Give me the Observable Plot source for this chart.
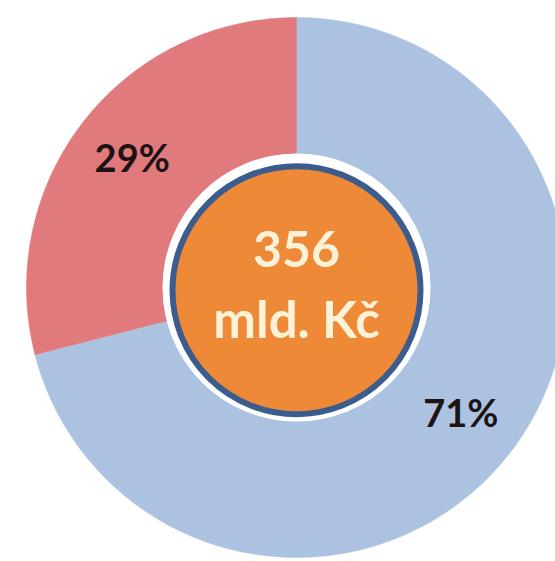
<!DOCTYPE html>
<html>
<head>
<meta charset="utf-8">
<script src="https://cdn.jsdelivr.net/npm/d3@7"></script>
<script src="https://cdn.jsdelivr.net/npm/@observablehq/plot@0.6"></script>
<style>
  html, body { margin: 0; padding: 0; background: #ffffff; }
  #chart svg { display: block; }
</style>
</head>
<body>
<div id="chart"></div>
<script>
// Data
const categories = ["B", "A"];
const shares = [71, 29];
const shareLabels = ["71%", "29%"];
const sliceColors = ["#abc3e0", "#e07a7d"];
const centerLines = ["356", "mld. Kč"];

// Geometry (unit donut: outer radius 1)
const W = 555, H = 561;
const outerR = 1, innerR = 0.495, labelR = 0.77;

const pie = d3.pie().sort(null).value(d => d)(shares);

// Build polygon points for each slice (angle measured clockwise from 12 o'clock)
const slicePts = [];
pie.forEach((p, i) => {
  const n = 200;
  const pts = [];
  for (let k = 0; k <= n; k++) {
    const a = p.startAngle + (p.endAngle - p.startAngle) * k / n;
    pts.push({cat: categories[i], x: outerR * Math.sin(a), y: outerR * Math.cos(a)});
  }
  for (let k = n; k >= 0; k--) {
    const a = p.startAngle + (p.endAngle - p.startAngle) * k / n;
    pts.push({cat: categories[i], x: innerR * Math.sin(a), y: innerR * Math.cos(a)});
  }
  pts.push({...pts[0]});
  slicePts.push(...pts);
});

const labels = pie.map((p, i) => {
  const a = (p.startAngle + p.endAngle) / 2;
  return {label: shareLabels[i], x: labelR * Math.sin(a), y: labelR * Math.cos(a)};
});

// Pixel frame: donut centre at (296, 287), outer radius 270 px
const cx = 296, cy = 287, Rpx = 270;
const xDomain = [-cx / Rpx, (W - cx) / Rpx];
const yDomain = [-(H - cy) / Rpx, cy / Rpx];

const chart = Plot.plot({
  width: W,
  height: H,
  margin: 0,
  style: {background: "#ffffff", fontFamily: "Lato, 'Open Sans', sans-serif"},
  x: {domain: xDomain, range: [0, W], axis: null},
  y: {domain: yDomain, range: [H, 0], axis: null},
  color: {domain: categories, range: sliceColors},
  marks: [
    Plot.line(slicePts, {x: "x", y: "y", z: "cat", fill: "cat", stroke: "cat", strokeWidth: 0.5, curve: "linear"}),
    Plot.dot([{x: 0, y: 0}], {x: "x", y: "y", r: 134, fill: "#ffffff", stroke: "none"}),
    Plot.dot([{x: 0, y: -0.01}], {x: "x", y: "y", r: 124, fill: "#ee8a37", stroke: "#3c5c8e", strokeWidth: 6}),
    Plot.text(labels, {x: "x", y: "y", text: "label", fontSize: 38, fontWeight: "bold", fill: "#1c1414"}),
    Plot.text([centerLines[0]], {x: () => 0, y: () => 0, text: d => d, dy: -37, fontSize: 50, fontWeight: "bold", fill: "#fdf2d8"}),
    Plot.text([centerLines[1]], {x: () => 0, y: () => 0, text: d => d, dy: 34, fontSize: 51, fontWeight: "bold", fill: "#fdf2d8"})
  ]
});

document.getElementById("chart").appendChild(chart);
</script>
</body>
</html>
